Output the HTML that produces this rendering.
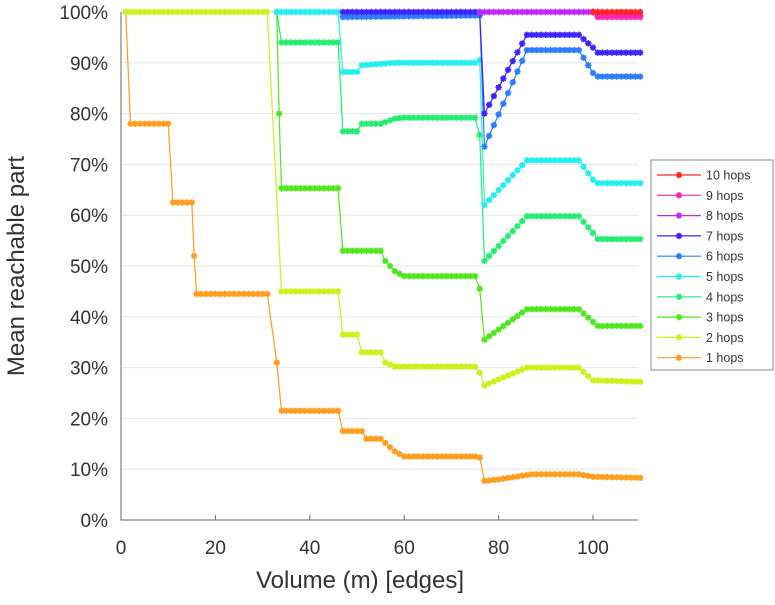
<!DOCTYPE html>
<html><head><meta charset="utf-8"><style>
body{margin:0;background:#fff;}
svg text{font-family:"Liberation Sans",sans-serif;fill:#333;}
</style></head><body>
<svg id="chart" width="775" height="600" xmlns="http://www.w3.org/2000/svg">
<g id="grid"></g>
<g id="series"></g>
<g id="axes"></g>
<text x="360" y="588" text-anchor="middle" font-size="24">Volume (m) [edges]</text>
<text transform="translate(24,266) rotate(-90)" text-anchor="middle" font-size="24">Mean reachable part</text>
<g id="legend"></g>
</svg>
<script>
const xTicks=[0,20,40,60,80,100];
const yTicks=[0,10,20,30,40,50,60,70,80,90,100];
const seriesNames=["1 hops","2 hops","3 hops","4 hops","5 hops","6 hops","7 hops","8 hops","9 hops","10 hops"];
const seriesColors=["#ff9c1a","#cdf01a","#4ce81a","#22ee6e","#22eef0","#2a7cff","#3c22ff","#c224ff","#ff24b4","#ff2424"];
const s1=[[1,100],[2,78],[10,78],[11,62.5],[15,62.5],[15.5,52],[16,44.5],[31,44.5],[33,31],[34,21.5],[46,21.5],[47,17.5],[51,17.5],[52,16],[55,16],[58,13.5],[60,12.5],[75,12.5],[76,12.3],[77,7.7],[80,8],[87,9],[97,9],[100,8.5],[110,8.3]];
const s2=[[1,100],[31,100],[34,45],[46,45],[47,36.5],[50,36.5],[51,33],[55,33],[56,31],[58,30.2],[75,30.2],[76,29],[77,26.5],[86,30],[97,30],[100,27.5],[110,27.2]];
const s3=[[33,100],[33.5,80],[34,65.3],[46,65.3],[47,53],[55,53],[56,51],[58,49],[60,48],[75,48],[76,45.5],[77,35.5],[86,41.5],[97,41.5],[100,39],[101,38.2],[110,38.2]];
const s4=[[33,100],[34,94],[46,94],[47,76.5],[50,76.5],[51,78],[55,78],[58,79],[60,79.2],[75,79.2],[76,75.8],[77,51],[86,59.8],[97,59.8],[100,56.5],[101,55.3],[110,55.3]];
const s5=[[33,100],[46,100],[47,88.2],[50,88.2],[51,89.5],[58,90],[75,90],[76,90.5],[77,62],[86,70.8],[97,70.8],[100,67],[101,66.3],[110,66.3]];
const s6=[[47,99],[75,99.3],[76,99.3],[77,73.5],[86,92.5],[97,92.5],[100,88],[101,87.3],[110,87.3]];
const s7=[[47,100],[75,100],[76,100],[77,80],[86,95.5],[97,95.5],[100,93],[101,92],[110,92]];
const s8=[[76,100],[100,100],[101,99.3],[110,99.3]];
const s9=[[100,100],[101,99],[110,99]];
const s10=[[100,100],[110,100]];
const allSeries=[s1,s2,s3,s4,s5,s6,s7,s8,s9,s10];

const NS="http://www.w3.org/2000/svg";
const X=v=>121+v*4.72, Y=v=>520-v*5.08;
function mk(tag,attrs,parent){const e=document.createElementNS(NS,tag);for(const k in attrs)e.setAttribute(k,attrs[k]);parent.appendChild(e);return e;}
const grid=document.getElementById('grid'),axes=document.getElementById('axes'),sg=document.getElementById('series'),lg=document.getElementById('legend');
yTicks.forEach(t=>{
 const l=mk('line',{x1:121,x2:638,y1:Y(t),y2:Y(t),stroke:'#e6e6e6','stroke-width':1},grid);
 
 
 const tx=mk('text',{x:108,y:Y(t)+7,'text-anchor':'end','font-size':19},axes);
 tx.textContent=t+'%';
 
 
});
xTicks.forEach(t=>{
 const l=mk('line',{x1:X(t),x2:X(t),y1:520,y2:515,stroke:'#666'},axes);
 
 
 const tx=mk('text',{x:X(t),y:554,'text-anchor':'middle','font-size':19},axes);
 tx.textContent=t;
 
 
});
const ax=mk('path',{d:'M121,12 V520 H638',fill:'none',stroke:'#666','stroke-width':1},axes);


function star(x,y,c,parent,name){
 const r=3.2;
 const p=mk('path',{d:`M${x-r},${y}H${x+r}M${x},${y-r}V${y+r}M${x-2.3},${y-2.3}L${x+2.3},${y+2.3}M${x-2.3},${y+2.3}L${x+2.3},${y-2.3}`,stroke:c,'stroke-width':1.6,fill:'none'},parent);
 
 
}
allSeries.forEach((s,i)=>{
 const c=seriesColors[i];
 const g=mk('g',{},sg);
 
 
 const pl=mk('polyline',{points:s.map(p=>X(p[0])+','+Y(p[1])).join(' '),fill:'none',stroke:c,'stroke-width':1.2},g);
 
 
 s.forEach((p,k)=>{
  star(X(p[0]),Y(p[1]),c,g,'point-marker');
  if(k<s.length-1){const q=s[k+1];
   const dx=q[0]-p[0];
   if(Math.abs((q[1]-p[1])/dx)<=4){
    const n=Math.floor(dx);
    for(let j=1;j<n;j++){const f=j/dx;star(X(p[0]+j),Y(p[1]+(q[1]-p[1])*f),c,g,'point-marker');}
   }
  }
 });
});
const lb=mk('rect',{x:651,y:160,width:122,height:210,fill:'#fff',stroke:'#888','stroke-width':1},lg);


for(let i=9;i>=0;i--){
 const row=9-i, y=175+row*20.3;
 const g=mk('g',{},lg);
 
 
 mk('line',{x1:657,x2:701,y1:y,y2:y,stroke:seriesColors[i],'stroke-width':1.2},g);
 star(679,y,seriesColors[i],g,'legend-marker');
 const t=mk('text',{x:706,y:y+4.5,'font-size':12.5},g);
 t.textContent=seriesNames[i];
 
 
}
</script>
</body></html>
